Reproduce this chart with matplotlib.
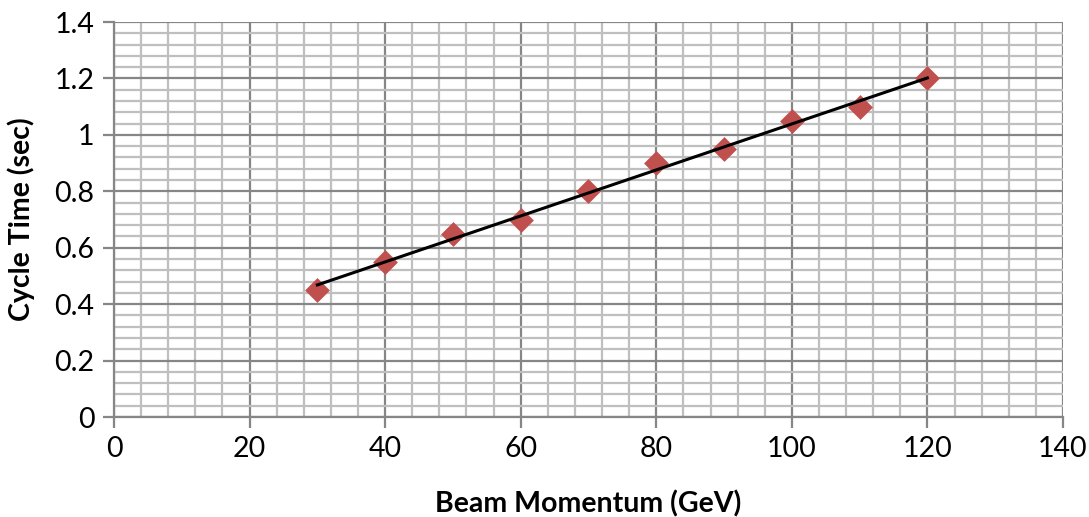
import numpy as np
import matplotlib
matplotlib.use("Agg")
import matplotlib.pyplot as plt
from matplotlib.ticker import MultipleLocator, FuncFormatter

momentum = [30, 40, 50, 60, 70, 80, 90, 100, 110, 120]
cycle_time = [0.45, 0.55, 0.65, 0.70, 0.80, 0.90, 0.95, 1.05, 1.10, 1.20]
x_label = "Beam Momentum (GeV)"
y_label = "Cycle Time (sec)"

plt.rcParams['font.family'] = ['Lato', 'DejaVu Sans']

fig = plt.figure(figsize=(10.89, 5.17), dpi=100)
ax = fig.add_axes([0.1047, 0.1934, 0.8714, 0.764])

ax.set_xlim(0, 140)
ax.set_ylim(0, 1.4)
ax.xaxis.set_major_locator(MultipleLocator(20))
ax.xaxis.set_minor_locator(MultipleLocator(4))
ax.yaxis.set_major_locator(MultipleLocator(0.2))
ax.yaxis.set_minor_locator(MultipleLocator(0.04))
ax.yaxis.set_major_formatter(FuncFormatter(lambda v, p: ("%g" % round(v, 2))))

ax.grid(which='minor', color='#BFBFBF', linewidth=1.6, zorder=0)
ax.grid(which='major', color='#868686', linewidth=1.6, zorder=0)
ax.set_axisbelow(True)

for s in ['top', 'right']:
    ax.spines[s].set_visible(False)
for s in ['left', 'bottom']:
    ax.spines[s].set_color('#868686')
    ax.spines[s].set_linewidth(1.6)

ax.tick_params(which='major', direction='out', length=8, width=1.6, color='#868686',
               labelsize=20.5, labelcolor='#000000', pad=6)
ax.tick_params(which='minor', length=0)

ax.scatter(momentum, cycle_time, marker='D', s=160, color='#C0504D', zorder=3, linewidths=0)

coef = np.polyfit(momentum, cycle_time, 1)
xs = np.array([min(momentum), max(momentum)])
ax.plot(xs, np.polyval(coef, xs), color='black', linewidth=2.2, zorder=4)

ax.set_xlabel(x_label, fontsize=20.5, fontweight='bold', labelpad=20)
ax.set_ylabel(y_label, fontsize=20.5, fontweight='bold', labelpad=14)

fig.savefig("out.png", dpi=100)
